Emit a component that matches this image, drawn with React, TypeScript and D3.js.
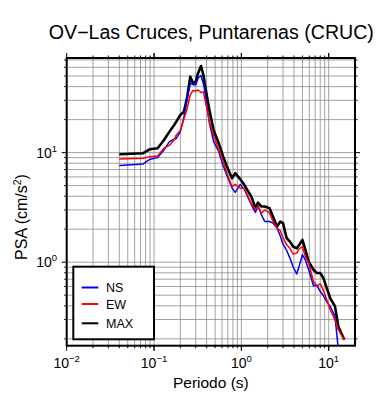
import React from 'react';
import * as d3 from 'd3';

// periodos (s)
const periods = [0.04, 0.075, 0.09, 0.11, 0.13, 0.15, 0.17, 0.18, 0.2, 0.22, 0.24, 0.26, 0.28, 0.3, 0.32, 0.345, 0.37, 0.38, 0.43, 0.48,
    0.55, 0.62, 0.68, 0.78, 0.85, 0.97, 1.08, 1.3, 1.45, 1.55, 1.7, 1.85, 2.1, 2.3, 2.55, 2.8, 3.0, 3.3, 3.6, 3.9,
    4.3, 4.6, 5.0, 5.4, 5.9, 6.7, 7.3, 8.0, 8.7, 9.5, 10.4, 11.8, 12.9, 13.9, 15.1];

// PSA (cm/s2)
const psaMax = [9.67, 9.87, 10.74, 10.97, 13.05, 15.54, 17.88, 19.17, 22.07, 23.64, 32.4, 49.3, 42.9, 44.4, 53.3, 61.7, 50.0, 42.9, 24.5, 16.1,
    12.18, 9.19, 7.56, 5.84, 6.49, 5.72, 5.08, 3.97, 3.11, 3.5, 3.22, 3.22, 3.11, 2.61, 2.12, 2.35, 2.27, 1.66, 1.54, 1.39,
    1.34, 1.44, 1.6, 1.3, 1.01, 0.853, 0.796, 0.796, 0.716, 0.581, 0.471, 0.395, 0.259, 0.226, 0.196];

const psaEW = [8.76, 8.89, 9.19, 9.33, 10.97, 11.63, 13.11, 14.5, 15.94, 20.28, 25.55, 33.6, 36.9, 36.5, 37.3, 35.4, 35.8, 31.2, 19.45, 14.35,
    10.58, 8.28, 6.53, 4.9, 5.13, 4.74, 4.74, 3.41, 3.03, 3.22, 2.8, 3.0, 2.82, 2.36, 2.05, 1.93, 1.67, 1.44, 1.34, 1.19,
    1.21, 1.33, 1.38, 1.13, 0.98, 0.663, 0.609, 0.635, 0.554, 0.454, 0.368, 0.298, 0.242, 0.218, 0.196];

const psaNS = [7.61, 7.89, 8.71, 9.0, 10.58, 12.6, 13.25, 13.47, 15.54, 21.15, 31.3, 42.9, 41.8, 41.4, 48.0, 50.5, 41.4, 36.5, 18.65, 12.65,
    10.21, 7.56, 6.26, 4.77, 4.34, 5.13, 4.62, 3.34, 2.85, 3.27, 2.7, 2.35, 2.35, 2.27, 2.06, 1.72, 1.46, 1.28, 1.09, 0.914,
    0.78, 0.927, 1.17, 1.05, 0.853, 0.609, 0.616, 0.541, 0.496, 0.436, 0.395, 0.32, 0.159];

const series = [
    {name: 'MAX', values: psaMax, color: '#000000', width: 2.6},
    {name: 'NS', values: psaNS, color: '#0000ff', width: 1.5},
    {name: 'EW', values: psaEW, color: '#ff0000', width: 1.5},
];
const legendOrder = ['NS', 'EW', 'MAX'];

const xMajor = [0.01, 0.1, 1, 10];
const yMajor = [1, 10];

const FONT = '"Liberation Sans", Arial, Helvetica, sans-serif';

const left = 66.7, right = 355, top = 58, bottom = 345.7;

const x = d3.scaleLog().domain([0.01, 20]).range([left, right]);
const y = d3.scaleLog().domain([0.173, 73]).range([bottom, top]);

function logSteps(lo: number, hi: number, eMin: number, eMax: number) {
    const out: number[] = [];
    for (let e = eMin; e <= eMax; e++) {
        for (let k = 1; k <= 9; k++) {
            const v = k * Math.pow(10, e);
            if (v > lo * 1.0001 && v < hi * 0.9999) out.push(v);
        }
    }
    return out;
}

const xGrid = logSteps(0.01, 20, -2, 1);
const yGrid = logSteps(0.173, 73, -1, 1);

function Pow10({e}: {e: number}) {
    return (
        <>
            10<tspan dy={-6} fontSize={9.5}>{e < 0 ? '\u2212' + (-e) : String(e)}</tspan>
        </>
    );
}

export default function App() {
    const line = d3.line<[number, number]>()
        .x(d => x(d[0]))
        .y(d => y(d[1]));

    return (
        <div style={{position: 'absolute', left: 0, top: 0}}>
            <svg width={390} height={400} style={{display: 'block', background: '#fff'}} fontFamily={FONT}>
                <defs>
                    <clipPath id="plotClip">
                        <rect x={left} y={top} width={right - left} height={bottom - top}/>
                    </clipPath>
                </defs>

                {/* titulo */}
                <text x={(left + right) / 2 + 0.5} y={39} textAnchor="middle" fontSize={19.6}>
                    OV{'\u2212'}Las Cruces, Puntarenas (CRUC)
                </text>

                {/* rejilla */}
                <g stroke="#8a8a8a" strokeWidth={0.8}>
                    {xGrid.map((v, i) => (
                        <line key={'gx' + i} x1={x(v)} x2={x(v)} y1={top} y2={bottom}/>
                    ))}
                    {yGrid.map((v, i) => (
                        <line key={'gy' + i} x1={left} x2={right} y1={y(v)} y2={y(v)}/>
                    ))}
                </g>

                {/* curvas */}
                <g clipPath="url(#plotClip)" fill="none" strokeLinejoin="round">
                    {series.map(s => (
                        <path key={s.name}
                              d={line(s.values.map((v, i) => [periods[i], v] as [number, number])) || ''}
                              stroke={s.color}
                              strokeWidth={s.width}/>
                    ))}
                </g>

                {/* ticks */}
                <g stroke="#000" strokeWidth={1}>
                    {xGrid.concat(xMajor).map((v, i) => {
                        const len = xMajor.includes(v) ? 5 : 2.5;
                        return (
                            <g key={'tx' + i}>
                                <line x1={x(v)} x2={x(v)} y1={bottom} y2={bottom + len}/>
                                <line x1={x(v)} x2={x(v)} y1={top} y2={top - len}/>
                            </g>
                        );
                    })}
                    {yGrid.map((v, i) => {
                        const len = yMajor.includes(v) ? 5 : 2.5;
                        return (
                            <g key={'ty' + i}>
                                <line x1={left} x2={left - len} y1={y(v)} y2={y(v)}/>
                                <line x1={right} x2={right + len} y1={y(v)} y2={y(v)}/>
                            </g>
                        );
                    })}
                </g>

                {/* marco */}
                <rect x={left} y={top} width={right - left} height={bottom - top}
                      fill="none" stroke="#000" strokeWidth={2}/>

                {/* etiquetas de ejes */}
                <g fontSize={14}>
                    {xMajor.map(v => (
                        <text key={'lx' + v} x={x(v)} y={368} textAnchor="middle">
                            <Pow10 e={Math.round(Math.log10(v))}/>
                        </text>
                    ))}
                    {yMajor.map(v => (
                        <text key={'ly' + v} x={57} y={y(v) + 5} textAnchor="end">
                            <Pow10 e={Math.round(Math.log10(v))}/>
                        </text>
                    ))}
                </g>

                <text x={(left + right) / 2} y={388} textAnchor="middle" fontSize={15.5}>Periodo (s)</text>
                <text transform={`translate(27, 217) rotate(-90)`} textAnchor="middle" fontSize={16}>
                    PSA (cm/s<tspan dy={-6} fontSize={10.5}>2</tspan><tspan dy={6}>)</tspan>
                </text>

                {/* leyenda */}
                <rect x={73.3} y={266.7} width={80.7} height={72.6} fill="#fff" stroke="#000" strokeWidth={2}/>
                {legendOrder.map((name, i) => {
                    const s = series.find(d => d.name === name)!;
                    const ly = [287.5, 304, 323.3][i];
                    return (
                        <g key={'lg' + name}>
                            <line x1={81.7} x2={98.3} y1={ly} y2={ly} stroke={s.color} strokeWidth={2}/>
                            <text x={106} y={ly + 4.5} fontSize={12.5}>{name}</text>
                        </g>
                    );
                })}
            </svg>
        </div>
    );
}
